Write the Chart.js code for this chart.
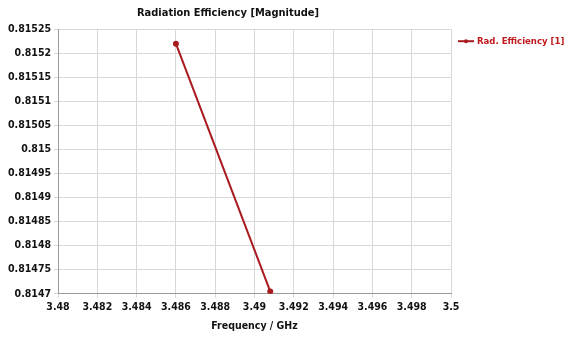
<!DOCTYPE html>
<html>
<head>
<meta charset="utf-8">
<script src="https://cdn.jsdelivr.net/npm/chart.js@4"></script>
<style>
  html, body { margin: 0; padding: 0; background: #fff; }
  #wrap { width: 574px; height: 337px; }
</style>
</head>
<body>
<div id="wrap"><canvas id="effChart" width="574" height="337"></canvas></div>
<script>
const freqGHz = [3.486, 3.4908];
const radEff = [0.81522, 0.814705];
const xTicks = [3.48, 3.482, 3.484, 3.486, 3.488, 3.49, 3.492, 3.494, 3.496, 3.498, 3.5];
const yTicks = [0.8147, 0.81475, 0.8148, 0.81485, 0.8149, 0.81495, 0.815, 0.81505, 0.8151, 0.81515, 0.8152, 0.81525];

const fam = '"DejaVu Sans Condensed", "DejaVu Sans", sans-serif';
const font = { family: fam, weight: 'bold', size: 10.5 };
const trim = v => String(parseFloat(v.toFixed(6)));
const lineCol = '#a81a1f';

// legend drawn by hand to the right of the plot, near its top
const sideLegend = {
  id: 'sideLegend',
  afterDraw(chart) {
    const c = chart.ctx;
    const ds = chart.data.datasets[0];
    const x = chart.chartArea.right + 7, y = chart.chartArea.top + 12;
    c.save();
    c.strokeStyle = lineCol;
    c.lineWidth = 2;
    c.beginPath(); c.moveTo(x, y); c.lineTo(x + 16, y); c.stroke();
    c.fillStyle = lineCol;
    c.beginPath(); c.arc(x + 8, y, 2, 0, Math.PI * 2); c.fill();
    c.fillStyle = '#c0181c';
    c.font = 'bold 9.5px ' + fam;
    c.textBaseline = 'middle';
    c.fillText(ds.label, x + 19, y);
    c.restore();
  }
};

const ctx = document.getElementById('effChart').getContext('2d');
new Chart(ctx, {
  type: 'line',
  data: {
    datasets: [{
      label: 'Rad. Efficiency [1]',
      data: freqGHz.map((f, i) => ({ x: f, y: radEff[i] })),
      borderColor: lineCol,
      backgroundColor: lineCol,
      borderWidth: 2,
      pointRadius: 2,
      pointHoverRadius: 2,
      tension: 0
    }]
  },
  options: {
    responsive: false,
    animation: false,
    layout: { padding: { left: 5, right: 123, top: 0, bottom: 0 } },
    plugins: {
      title: {
        display: true,
        text: 'Radiation Efficiency [Magnitude]',
        color: '#111',
        font: { ...font, size: 11 },
        padding: { top: 7, bottom: 9 }
      },
      legend: { display: false },
      tooltip: { enabled: false }
    },
    scales: {
      x: {
        type: 'linear',
        min: 3.48,
        max: 3.5,
        afterBuildTicks: axis => { axis.ticks = xTicks.map(v => ({ value: v })); },
        ticks: { color: '#111', font: font, callback: v => trim(v), maxRotation: 0, padding: 3 },
        grid: { color: '#d8d8d8', tickLength: 4 },
        border: { color: '#999' },
        title: { display: true, text: 'Frequency / GHz', color: '#111', font: font, padding: { top: 4 } }
      },
      y: {
        min: 0.8147,
        max: 0.81525,
        afterBuildTicks: axis => { axis.ticks = yTicks.map(v => ({ value: v })); },
        ticks: { color: '#111', font: font, callback: v => trim(v), padding: 3 },
        grid: { color: '#d8d8d8', tickLength: 4 },
        border: { color: '#999' }
      }
    }
  },
  plugins: [sideLegend]
});
</script>
</body>
</html>
